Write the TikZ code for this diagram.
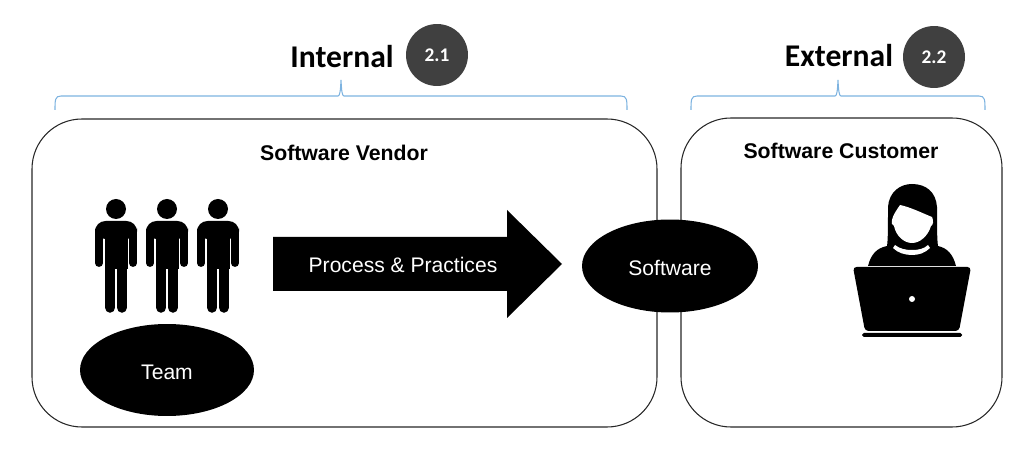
\documentclass[tikz,border=0pt]{standalone}
\usepackage{fontspec}
\setmainfont{Liberation Sans}
\newfontfamily\headfont{Carlito}
\usetikzlibrary{calc,shapes.geometric}
\definecolor{bracket}{HTML}{7DB3E0}
\definecolor{badge}{HTML}{404040}
\tikzset{
  orgbox/.style={draw=black!85, line width=.6pt, rounded corners=1cm},
  blob/.style={ellipse, fill=black, text=white, font=\fontsize{12}{14}\selectfont, inner sep=0pt, text height=10.8pt, text depth=0pt},
  badgenode/.style={circle, fill=badge, text=white, minimum size=1.24cm, inner sep=0pt, font=\headfont\bfseries\fontsize{11}{12}\selectfont},
  headlabel/.style={font=\headfont\bfseries\fontsize{18}{20}\selectfont},
  boxlabel/.style={font=\bfseries\fontsize{12.1}{14}\selectfont},
  bracket line/.style={draw=bracket, line width=.6pt}
}
% one figure, head at (#1,209)
\newcommand{\teamfigure}[1]{
  \begin{scope}[shift={(#1,209)}]
    \fill (0,0) circle (10);
    \fill[rounded corners=6pt] (-21,30) -- (-21,12) -- (21,12) -- (21,30) -- cycle;
    \fill (-11.5,14) rectangle (11.5,60);
    \draw[line width=4.5pt, line cap=round] (-17,22) -- (-17,54);
    \draw[line width=4.5pt, line cap=round] (17,22) -- (17,54);
    \draw[line width=6pt, line cap=round] (-5.9,50) -- (-5.9,98.5);
    \draw[line width=6pt, line cap=round] (5.9,50) -- (5.9,98.5);
  \end{scope}
}
% a brace: #1 left end, #2 tip, #3 right end
\newcommand{\spanbrace}[3]{
  \draw[bracket line] (#1,110) .. controls (#1,100) and (#1,96) .. (#1+6,96) -- (#2-3,96)
    .. controls (#2-1,96) and (#2-.5,90) .. (#2,80)
    .. controls (#2+.5,90) and (#2+1,96) .. (#2+3,96) -- (#3-6,96)
    .. controls (#3,96) and (#3,100) .. (#3,110);
}
\begin{document}
\begin{tikzpicture}[x=.02cm, y=-.02cm]
\useasboundingbox (0,0) rectangle (1035,462);

\draw[orgbox] (32,119) rectangle (657,427);
\draw[orgbox] (681,118) rectangle (1002,427);

\node[headlabel] (internal) at (342,57) {Internal};
\node[headlabel] (external) at (839,56) {External};
\node[badgenode] (badgeint) at (437,55) {2.1};
\node[badgenode] (badgeext) at (934,57) {2.2};

\spanbrace{55}{341}{627}
\spanbrace{691}{838}{985}

\node[boxlabel] (vendor) at (344,153) {Software Vendor};
\node[boxlabel] (customer) at (841,151) {Software Customer};

\foreach \i in {116,167,218} {\teamfigure{\i}}
\node[blob, minimum width=3.48cm, minimum height=1.84cm] (team) at (167,370) {Team};

\fill (273,237) -- (507,237) -- (507,210) -- (562,264) -- (507,318) -- (507,291) -- (273,291) -- cycle;
\node[text=white, font=\fontsize{12}{14}\selectfont] (process) at (403,265) {Process \& Practices};

\node[blob, minimum width=3.52cm, minimum height=1.86cm] (software) at (670,266) {Software};

%customer figure
\fill (868,266) .. controls (871,254) and (877,248) .. (887,246) .. controls (888,240) and (888,225) .. (888,207)
  .. controls (889,192) and (900,184) .. (912,184)
  .. controls (926,184) and (936,192) .. (937,207) .. controls (937,225) and (937,240) .. (938,246)
  .. controls (947,248) and (953,254) .. (956,266) -- cycle;
\fill[white] (892,220) .. controls (893,215) and (896,211) .. (900,205)
  .. controls (910,207) and (922,213) .. (932,217)
  .. controls (934,221) and (933,225) .. (931,226)
  .. controls (928,236) and (920,243) .. (912,243)
  .. controls (904,243) and (896,236) .. (894,226)
  .. controls (892,225) and (891,223) .. (892,220) -- cycle;
\fill[white] (895,245) .. controls (900,249) and (906,250) .. (912,250)
  .. controls (918,250) and (924,249) .. (928,245)
  -- (930,248) .. controls (925,253) and (919,255) .. (912,255)
  .. controls (905,255) and (898,253) .. (893,248) -- cycle;
\fill[rounded corners=2pt] (853,267) -- (971,267) -- (959,331) -- (865,331) -- cycle;
\fill[white] (912,299) circle (3);
\fill[rounded corners=1pt] (862,333) rectangle (962,337);
\end{tikzpicture}
\end{document}
